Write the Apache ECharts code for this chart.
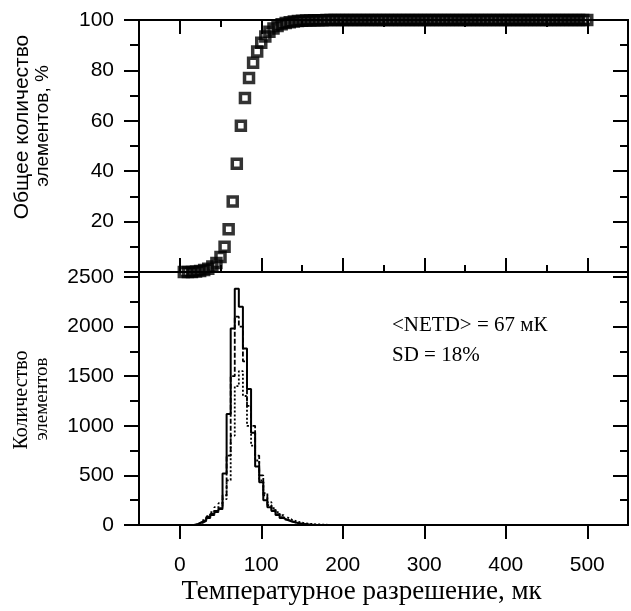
<!DOCTYPE html>
<html><head><meta charset="utf-8">
<script src="https://cdn.jsdelivr.net/npm/echarts@6/dist/echarts.min.js"></script>
<style>html,body{margin:0;padding:0;background:#fff}#c{width:631px;height:611px}</style>
</head><body><div id="c"></div>
<script>
// ---- data ----
const cumTemps = [5,10,15,20,25,30,35,40,45,50,55,60,65,70,75,80,85,90,95,100,
  105,110,115,120,125,130,135,140,145,150,155,160,165,170,175,180,185,190,195,200,
  205,210,215,220,225,230,235,240,245,250,255,260,265,270,275,280,285,290,295,300,
  305,310,315,320,325,330,335,340,345,350,355,360,365,370,375,380,385,390,395,400,
  405,410,415,420,425,430,435,440,445,450,455,460,465,470,475,480,485,490,495,500];
const cumPercent = [0,0,0,0.2,0.4,0.8,1.3,2.2,3.6,6,10,17,28,43,58,69,77,83,87.5,91,
  93.5,95.3,96.6,97.6,98.3,98.8,99.1,99.4,99.6,99.7,99.8,99.85,99.9,99.93,99.95,99.96,99.97,99.98,99.98,99.99,
  99.99,99.99,100,100,100,100,100,100,100,100,100,100,100,100,100,100,100,100,100,100,
  100,100,100,100,100,100,100,100,100,100,100,100,100,100,100,100,100,100,100,100,
  100,100,100,100,100,100,100,100,100,100,100,100,100,100,100,100,100,100,100,100];

const binEdges = [2.5,7.5,12.5,17.5,22.5,27.5,32.5,37.5,42.5,47.5,52.5,57.5,62.5,67.5,72.5,77.5,82.5,87.5,92.5,97.5,
  102.5,107.5,112.5,117.5,122.5,127.5,132.5,137.5,142.5,147.5,152.5,157.5,162.5,167.5,172.5,177.5,182.5,187.5,192.5,197.5,202.5];
const countsSolid  = [0,0,0,10,30,50,80,110,140,170,520,1120,1980,2380,2200,1780,1370,930,590,430,
  250,180,140,100,70,50,35,25,15,10,5,3,0,0,0,0,0,0,0,0,0];
const countsDashed = [0,0,0,5,20,40,70,100,130,160,300,700,1500,2100,2000,1650,1200,1000,700,500,
  300,200,150,110,80,55,40,25,15,10,5,0,0,0,0,0,0,0,0,0,0];
const countsDotted = [0,0,0,0,20,50,90,130,180,220,260,450,900,1400,1550,1300,1000,800,650,450,
  320,230,170,130,100,75,55,40,28,20,14,10,7,5,3,2,0,0,0,0,0];

const xMajor = [0,100,200,300,400,500];
const xMinor = [50,150,250,350,450];
const pctTicks = [0,20,40,60,80,100];
const pctLabels = [20,40,60,80,100];
const pctMinor = [10,30,50,70,90];
const cntTicks = [0,500,1000,1500,2000,2500];
const cntMinor = [250,750,1250,1750,2250];

const sans = "'Liberation Sans', Arial, sans-serif";
const narrow = "'Liberation Sans Narrow', 'Arial Narrow', 'Liberation Sans', sans-serif";
const serif = "'Liberation Serif', 'Times New Roman', serif";
const black = '#000';

function xAx(grid, pos, ticks, len, inside, opts) {
  return Object.assign({
    type: 'value', gridIndex: grid, position: pos, min: -50, max: 550,
    axisLine: { show: true, onZero: false, lineStyle: { color: black, width: 2 } },
    axisTick: { show: true, inside: inside, length: len, customValues: ticks, lineStyle: { color: black, width: 2 } },
    axisLabel: { show: false }, splitLine: { show: false }
  }, opts || {});
}
function yAx(grid, pos, min, max, ticks, len, inside, opts) {
  return Object.assign({
    type: 'value', gridIndex: grid, position: pos, min: min, max: max,
    axisLine: { show: true, onZero: false, lineStyle: { color: black, width: 2 } },
    axisTick: { show: true, inside: inside, length: len, customValues: ticks, lineStyle: { color: black, width: 2 } },
    axisLabel: { show: false }, splitLine: { show: false }
  }, opts || {});
}
const plain = v => String(v);

const chart = echarts.init(document.getElementById('c'), null, { renderer: 'canvas' });
const option = {
  animation: false,
  backgroundColor: '#fff',
  grid: [
    { left: 139, right: 3, top: 20, height: 252 },
    { left: 139, right: 3, top: 272, height: 253 }
  ],
  xAxis: [
    xAx(0, 'top', xMajor, 14, true),
    xAx(0, 'top', xMinor, 7, true),
    xAx(0, 'bottom', xMajor, 14, true),
    xAx(0, 'bottom', xMinor, 7, true),
    xAx(1, 'bottom', xMajor, 14, false, {
      axisLabel: { show: true, customValues: xMajor, formatter: plain, margin: 30, color: black, fontFamily: sans, fontSize: 21 },
      name: 'Температурное разрешение, мк', nameLocation: 'middle', nameGap: 53,
      nameTextStyle: { color: black, fontFamily: serif, fontSize: 27, padding: [0, 44, 0, 0] }
    })
  ],
  yAxis: [
    yAx(0, 'left', 0, 100, pctTicks, 15, false, {
      axisLabel: { show: true, customValues: pctLabels, formatter: plain, margin: 25, color: black, fontFamily: sans, fontSize: 21 }
    }),
    yAx(0, 'left', 0, 100, pctMinor, 9, false),
    yAx(0, 'right', 0, 100, pctTicks, 15, true),
    yAx(0, 'right', 0, 100, pctMinor, 8, true),
    yAx(1, 'left', 0, 2550, cntTicks, 15, false, {
      axisLabel: { show: true, customValues: cntTicks, formatter: plain, margin: 25, color: black, fontFamily: sans, fontSize: 21 }
    }),
    yAx(1, 'left', 0, 2550, cntMinor, 9, false),
    yAx(1, 'right', 0, 2550, cntTicks, 15, true),
    yAx(1, 'right', 0, 2550, cntMinor, 8, true)
  ],
  graphic: [
    { type: 'text', x: 22, y: 127, rotation: Math.PI / 2,
      style: { text: 'Общее количество', fontFamily: sans, fontSize: 21, fill: black, textAlign: 'center', textVerticalAlign: 'middle' } },
    { type: 'text', x: 43, y: 126, rotation: Math.PI / 2,
      style: { text: 'элементов, %', fontFamily: narrow, fontSize: 19, fill: black, textAlign: 'center', textVerticalAlign: 'middle' } },
    { type: 'text', x: 22, y: 400, rotation: Math.PI / 2,
      style: { text: 'Количество', fontFamily: serif, fontSize: 20, fill: black, textAlign: 'center', textVerticalAlign: 'middle' } },
    { type: 'text', x: 42, y: 399, rotation: Math.PI / 2,
      style: { text: 'элементов', fontFamily: serif, fontSize: 19, fill: black, textAlign: 'center', textVerticalAlign: 'middle' } },
    { type: 'text', x: 392, y: 325,
      style: { text: '<NETD> = 67 мК', fontFamily: serif, fontSize: 21, fill: black, textAlign: 'left', textVerticalAlign: 'middle' } },
    { type: 'text', x: 392, y: 355,
      style: { text: 'SD = 18%', fontFamily: serif, fontSize: 21, fill: black, textAlign: 'left', textVerticalAlign: 'middle' } }
  ],
  series: [
    { type: 'scatter', xAxisIndex: 0, yAxisIndex: 0, symbol: 'rect', symbolSize: 9, clip: false,
      itemStyle: { color: 'rgba(255,255,255,0)', borderColor: black, borderWidth: 3.5 },
      data: cumTemps.map((t, i) => [t, cumPercent[i]]) },
    { type: 'line', xAxisIndex: 4, yAxisIndex: 4, step: 'end', symbol: 'none',
      lineStyle: { color: black, width: 1.8, type: [2, 2] },
      data: binEdges.map((t, i) => [t, countsDotted[i]]) },
    { type: 'line', xAxisIndex: 4, yAxisIndex: 4, step: 'end', symbol: 'none',
      lineStyle: { color: black, width: 1.8, type: [5, 2] },
      data: binEdges.map((t, i) => [t, countsDashed[i]]) },
    { type: 'line', xAxisIndex: 4, yAxisIndex: 4, step: 'end', symbol: 'none',
      lineStyle: { color: black, width: 2 },
      data: binEdges.map((t, i) => [t, countsSolid[i]]) }
  ]
};
chart.setOption(option);
</script>
</body></html>
